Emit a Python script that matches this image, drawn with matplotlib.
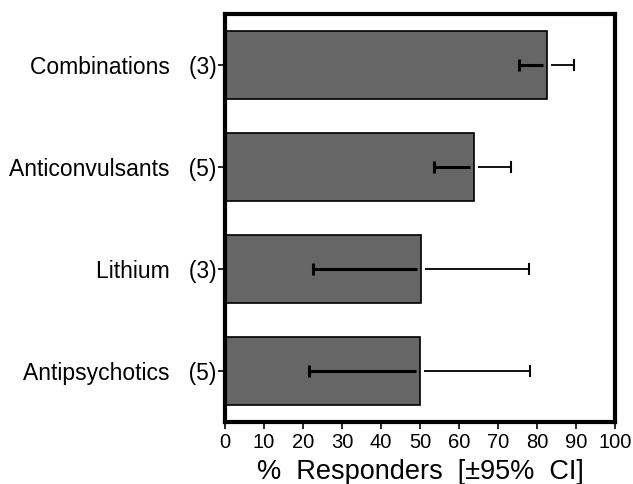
import numpy as np
import matplotlib
matplotlib.use("Agg")
import matplotlib.pyplot as plt

plt.rcParams["font.family"] = ["Liberation Sans", "DejaVu Sans"]

# data, top to bottom as in the chart
drugs = ["Combinations", "Anticonvulsants", "Lithium", "Antipsychotics"]
n_studies = [3, 5, 3, 5]
pct_resp = [82.5, 63.8, 50.2, 50.0]
ci_low = [75.4, 53.6, 22.5, 21.5]
ci_high = [89.5, 73.3, 78.0, 78.3]

fig = plt.figure(figsize=(6.33, 4.84), dpi=100)
ax = fig.add_axes([0.3555, 0.128, 0.616, 0.843])

y = np.arange(len(drugs))
ax.barh(y, pct_resp, height=0.66, color="#666666", edgecolor="black",
        linewidth=1.2, zorder=2)

vals = np.array(pct_resp)
# lower arm inside the bar is heavier, upper arm thinner, small gap at bar edge
ax.hlines(y, ci_low, vals - 1.0, color="black", linewidth=2.2, zorder=3)
ax.hlines(y, vals + 1.0, ci_high, color="black", linewidth=1.3, zorder=3)
ax.plot(ci_low, y, linestyle="none", marker="|", markersize=9,
        markeredgewidth=2.2, color="black", zorder=3)
ax.plot(ci_high, y, linestyle="none", marker="|", markersize=9,
        markeredgewidth=1.5, color="black", zorder=3)

ax.set_xlim(0, 100)
ax.set_ylim(len(drugs) - 0.5, -0.5)
ax.set_xticks(np.arange(0, 101, 10))
ax.set_yticks(y)
ax.set_yticklabels([f"{d}   ({n})" for d, n in zip(drugs, n_studies)], fontsize=16.5)
ax.tick_params(axis="x", labelsize=14.5, length=5, width=1.2, pad=3)
ax.tick_params(axis="y", length=5, width=1.2, pad=1)

for s in ax.spines.values():
    s.set_linewidth(3)

ax.set_xlabel("%  Responders  [±95%  CI]", fontsize=19.5, labelpad=5)

fig.savefig("out.png", dpi=100)
